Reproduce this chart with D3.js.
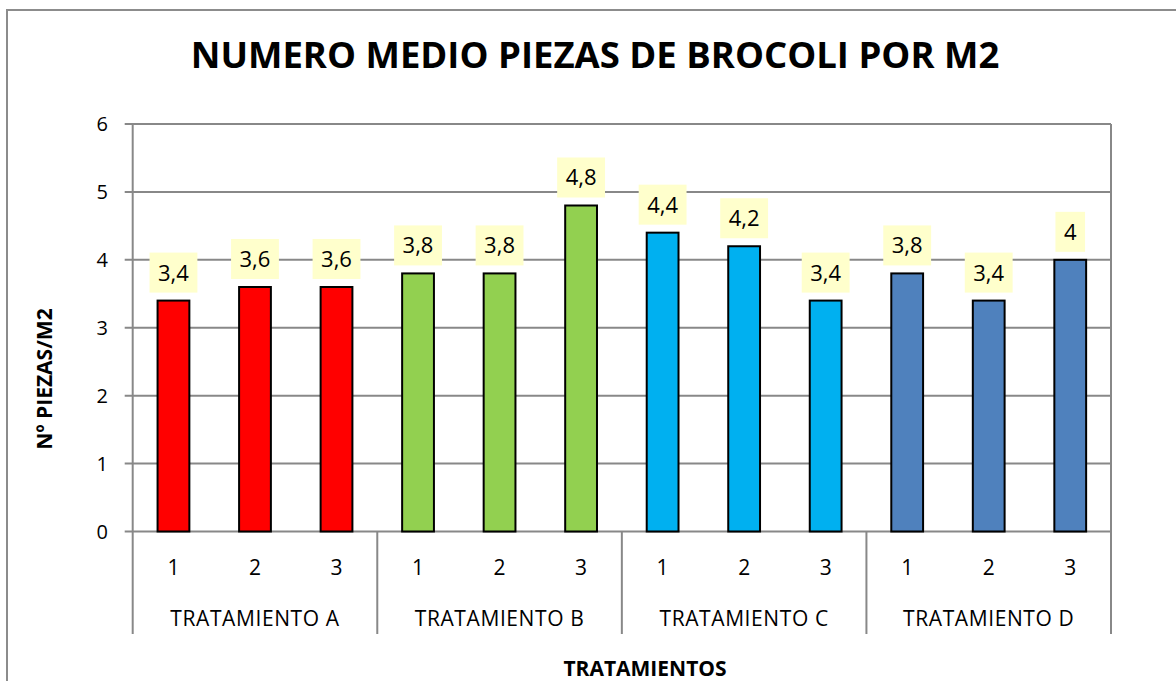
<!DOCTYPE html>
<html>
<head>
<meta charset="utf-8">
<script src="https://cdn.jsdelivr.net/npm/d3@7"></script>
<style>
  body { margin: 0; background: #fff; }
  svg { display: block; font-family: "Open Sans", sans-serif; }
</style>
</head>
<body>
<div id="vis"></div>
<script>
var groups = ["TRATAMIENTO A", "TRATAMIENTO B", "TRATAMIENTO C", "TRATAMIENTO D"];
var reps = ["1", "2", "3"];
var valuesA = [3.4, 3.6, 3.6];
var valuesB = [3.8, 3.8, 4.8];
var valuesC = [4.4, 4.2, 3.4];
var valuesD = [3.8, 3.4, 4];
var yTicks = [0, 1, 2, 3, 4, 5, 6];
var groupColors = ["#ff0000", "#92d050", "#00b0f0", "#4f81bd"];

var series = [valuesA, valuesB, valuesC, valuesD];
var data = [];
groups.forEach(function(gname, gi) {
  reps.forEach(function(r, ri) {
    data.push({group: gname, rep: r, value: series[gi][ri], color: groupColors[gi]});
  });
});

var W = 1176, H = 681;
var plotLeft = 132.7, plotRight = 1111, plotTop = 124, plotBottom = 531.5, axisBottom = 634;

var svg = d3.select("#vis").append("svg")
  .attr("width", W)
  .attr("height", H);

// outer chart border (runs off the picture on right and bottom)
svg.append("rect")
  .attr("x", 7).attr("y", 10)
  .attr("width", 1300).attr("height", 800)
  .attr("fill", "none")
  .attr("stroke", "#8c8c8c")
  .attr("stroke-width", 2);

var x0 = d3.scaleBand().domain(groups).range([plotLeft, plotRight]).padding(0);
var x1 = d3.scaleBand().domain(reps).range([0, x0.bandwidth()])
  .paddingInner(0.61).paddingOuter(0.305);
var y = d3.scaleLinear().domain([0, 6]).range([plotBottom, plotTop]);

var locale = d3.formatLocale({decimal: ",", thousands: ".", grouping: [3], currency: ["", "€"]});
var fmt = locale.format("~g");

// gridlines
svg.append("g")
  .selectAll("line")
  .data(yTicks)
  .enter().append("line")
  .attr("x1", plotLeft - 8).attr("x2", plotRight)
  .attr("y1", function(d) { return y(d); })
  .attr("y2", function(d) { return y(d); })
  .attr("stroke", "#888")
  .attr("stroke-width", 2);

// y tick labels
svg.append("g")
  .selectAll("text")
  .data(yTicks)
  .enter().append("text")
  .attr("x", 108)
  .attr("y", function(d) { return y(d); })
  .attr("dy", "0.36em")
  .attr("text-anchor", "end")
  .attr("font-size", 20)
  .attr("fill", "#000")
  .text(function(d) { return d; });

// vertical axis lines and group separators
var seps = [plotLeft].concat(groups.map(function(g) { return x0(g) + x0.bandwidth(); }));
svg.append("g")
  .selectAll("line")
  .data(seps)
  .enter().append("line")
  .attr("x1", function(d) { return d; })
  .attr("x2", function(d) { return d; })
  .attr("y1", function(d, i) { return (i === 0 || i === seps.length - 1) ? plotTop : plotBottom; })
  .attr("y2", axisBottom)
  .attr("stroke", "#888")
  .attr("stroke-width", 2);

// bars
var bars = svg.append("g")
  .selectAll("g")
  .data(data)
  .enter().append("g")
  .attr("transform", function(d) { return "translate(" + (x0(d.group) + x1(d.rep)) + ",0)"; });

bars.append("rect")
  .attr("x", 0)
  .attr("y", function(d) { return y(d.value); })
  .attr("width", x1.bandwidth())
  .attr("height", function(d) { return y(0) - y(d.value); })
  .attr("fill", function(d) { return d.color; })
  .attr("stroke", "#000")
  .attr("stroke-width", 2);

// data labels with yellow boxes
bars.each(function(d) {
  var gsel = d3.select(this);
  var cx = x1.bandwidth() / 2;
  var boxBottom = y(d.value) - 8;
  var boxH = 40;
  var box = gsel.append("rect").attr("fill", "#ffffcc");
  var t = gsel.append("text")
    .attr("x", cx)
    .attr("y", boxBottom - boxH / 2)
    .attr("dy", "0.36em")
    .attr("text-anchor", "middle")
    .attr("font-size", 22)
    .attr("fill", "#000")
    .text(fmt(d.value));
  var tw = t.node().getComputedTextLength();
  var bw = tw + 17;
  box.attr("x", cx - bw / 2)
    .attr("y", boxBottom - boxH)
    .attr("width", bw)
    .attr("height", boxH);
});

// rep labels
svg.append("g")
  .selectAll("text")
  .data(data)
  .enter().append("text")
  .attr("x", function(d) { return x0(d.group) + x1(d.rep) + x1.bandwidth() / 2; })
  .attr("y", 567)
  .attr("dy", "0.36em")
  .attr("text-anchor", "middle")
  .attr("font-size", 21)
  .attr("fill", "#000")
  .text(function(d) { return d.rep; });

// group labels
svg.append("g")
  .selectAll("text")
  .data(groups)
  .enter().append("text")
  .attr("x", function(d) { return x0(d) + x0.bandwidth() / 2; })
  .attr("y", 626)
  .attr("text-anchor", "middle")
  .attr("font-size", 21)
  .attr("letter-spacing", 0.6)
  .attr("fill", "#000")
  .text(function(d) { return d; });

// title
svg.append("text")
  .attr("x", 595)
  .attr("y", 68)
  .attr("text-anchor", "middle")
  .attr("font-size", 36.5)
  .attr("font-weight", "bold")
  .attr("fill", "#000")
  .text("NUMERO MEDIO PIEZAS DE BROCOLI POR M2");

// axis titles
svg.append("text")
  .attr("x", 645)
  .attr("y", 676)
  .attr("text-anchor", "middle")
  .attr("font-size", 21)
  .attr("font-weight", "bold")
  .attr("fill", "#000")
  .text("TRATAMIENTOS");

svg.append("text")
  .attr("transform", "translate(52,379) rotate(-90)")
  .attr("text-anchor", "middle")
  .attr("font-size", 21)
  .attr("font-weight", "bold")
  .attr("fill", "#000")
  .text("Nº PIEZAS/M2");
</script>
</body>
</html>
